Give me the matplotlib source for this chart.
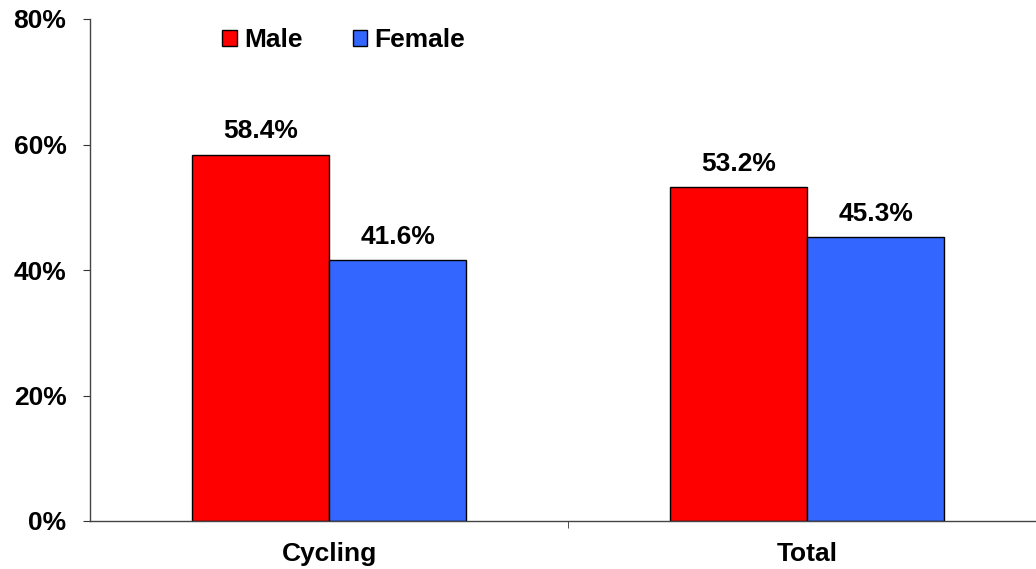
import numpy as np
from matplotlib import pyplot as plt
from matplotlib.ticker import FixedLocator, PercentFormatter

categories = ["Cycling", "Total"]
male = [58.4, 53.2]
female = [41.6, 45.3]
series_names = ["Male", "Female"]
colors = ["#ff0000", "#3366ff"]

plt.rcParams["font.family"] = ["Liberation Sans", "DejaVu Sans"]
plt.rcParams["font.weight"] = "bold"
plt.rcParams["font.size"] = 19

fig = plt.figure(figsize=(10.36, 5.69), dpi=100)
ax = fig.add_axes([90 / 1036, 1 - 521 / 569, 1 - 90 / 1036, (521 - 19) / 569])

x = np.arange(len(categories))
width = 0.287
bars_m = ax.bar(x - width / 2, male, width, color=colors[0], edgecolor="black",
                linewidth=1, label=series_names[0])
bars_f = ax.bar(x + width / 2, female, width, color=colors[1], edgecolor="black",
                linewidth=1, label=series_names[1])

# value labels above each bar
for bars, vals in [(bars_m, male), (bars_f, female)]:
    for b, v in zip(bars, vals):
        ax.annotate(f"{v:.1f}%", (b.get_x() + b.get_width() / 2, v),
                    xytext=(0, 8), textcoords="offset points",
                    ha="center", va="bottom", fontsize=19, fontweight="bold")

ax.set_ylim(0, 80)
ax.set_xlim(-0.5, 1.479)
ax.set_yticks([0, 20, 40, 60, 80])
ax.yaxis.set_major_formatter(PercentFormatter(decimals=0))
ax.set_xticks(x)
ax.set_xticklabels(categories)
ax.xaxis.set_minor_locator(FixedLocator([0.5]))
ax.tick_params(axis="x", which="major", length=0, pad=15)
ax.tick_params(axis="x", which="minor", length=5, color="#333333")
ax.tick_params(axis="y", length=5, color="#333333", pad=12)

for s in ["top", "right"]:
    ax.spines[s].set_visible(False)
for s in ["left", "bottom"]:
    ax.spines[s].set_color("#444444")
    ax.spines[s].set_linewidth(1)

ax.legend(loc="upper left", bbox_to_anchor=(0.1147, 1.029), ncol=2, frameon=False,
          handlelength=0.55, handleheight=0.55, handletextpad=0.27, columnspacing=1.9,
          fontsize=19)

plt.savefig("out.png", dpi=100)
